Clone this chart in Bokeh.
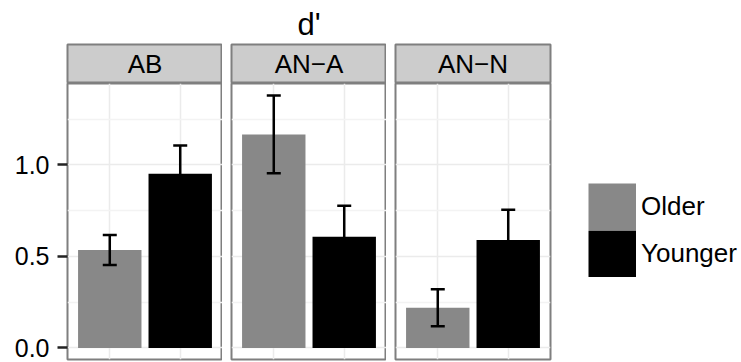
from bokeh.plotting import figure
from bokeh.layouts import row, column
from bokeh.models import (ColumnDataSource, FactorRange, Range1d, FixedTicker, Whisker,
                          TeeHead, Label, Legend, LegendItem, CategoricalTicker)
from bokeh.embed import file_html
from bokeh.resources import INLINE

# ---------------- data ----------------
conditions = ["AB", "AN\u2212A", "AN\u2212N"]
groups = ["Older", "Younger"]
older_mean = [0.535, 1.166, 0.219]
older_err = [0.082, 0.212, 0.101]
younger_mean = [0.951, 0.607, 0.589]
younger_err = [0.154, 0.169, 0.165]
group_colors = ["#888888", "#000000"]
y_ticks = [0.0, 0.5, 1.0]
y_tick_labels = ["0.0", "0.5", "1.0"]
y_minor_ticks = [0.25, 0.75, 1.25]
title_text = "d'"

FONT = "Liberation Sans"
FRAME_W = 155
GAP = 9
LEFT = 67
RIGHT = 191
BORDER = "#7F7F7F"

strips = []
panels = []
sources = []

for i, cond in enumerate(conditions):
    left = LEFT if i == 0 else GAP
    right = RIGHT if i == len(conditions) - 1 else 0

    # ---- facet strip ----
    s = figure(x_range=Range1d(0, 1), y_range=Range1d(0, 1),
               frame_width=FRAME_W, frame_height=39,
               min_border_left=left, min_border_right=right,
               min_border_top=44, min_border_bottom=0,
               x_axis_location=None, y_axis_location=None,
               toolbar_location=None, output_backend="svg",
               background_fill_color="#CCCCCC", border_fill_color="white",
               outline_line_color=BORDER, outline_line_width=2)
    s.grid.visible = False
    s.add_layout(Label(x=0.5, y=0.5, text=cond, text_align="center", text_baseline="middle",
                       text_font_size="26px", text_font=FONT, text_color="black"))
    if i == 1:
        s.title.text = title_text
        s.title.align = "center"
        s.title.text_font = FONT
        s.title.text_font_size = "31px"
        s.title.text_font_style = "normal"
        s.title.text_color = "black"
        s.title.standoff = 6
    strips.append(s)

    # ---- panel ----
    p = figure(x_range=FactorRange(factors=groups, range_padding=0.1, range_padding_units="absolute"),
               y_range=Range1d(-0.063, 1.444),
               frame_width=FRAME_W, frame_height=276,
               min_border_left=left, min_border_right=right,
               min_border_top=0, min_border_bottom=3,
               x_axis_location=None, y_axis_location=("left" if i == 0 else None),
               toolbar_location=None, output_backend="svg",
               background_fill_color="white", border_fill_color="white",
               outline_line_color=BORDER, outline_line_width=2)

    p.xgrid.ticker = CategoricalTicker()
    p.xgrid.grid_line_color = "#EBEBEB"
    p.xgrid.grid_line_width = 1.5
    p.ygrid.ticker = FixedTicker(ticks=y_ticks, minor_ticks=y_minor_ticks)
    p.ygrid.grid_line_color = "#EBEBEB"
    p.ygrid.grid_line_width = 1.5
    p.ygrid.minor_grid_line_color = "#F3F3F3"
    p.ygrid.minor_grid_line_width = 1.5

    if i == 0:
        ax = p.yaxis[0]
        ax.ticker = FixedTicker(ticks=y_ticks)
        ax.major_label_overrides = {t: lab for t, lab in zip(y_ticks, y_tick_labels)}
        ax.axis_line_color = None
        ax.major_tick_line_color = "#222222"
        ax.major_tick_line_width = 2.5
        ax.major_tick_out = 10
        ax.major_tick_in = 0
        ax.minor_tick_line_color = None
        ax.major_label_standoff = 8
        ax.major_label_text_font = FONT
        ax.major_label_text_font_size = "25px"
        ax.major_label_text_color = "black"

    om, oe = older_mean[i], older_err[i]
    ym, ye = younger_mean[i], younger_err[i]
    src = ColumnDataSource(dict(
        x=groups,
        top=[om, ym],
        upper=[om + oe, ym + ye],
        lower=[om - oe, ym - ye],
        color=group_colors,
    ))
    p.vbar(x="x", top="top", bottom=0, width=0.9, source=src,
           fill_color="color", line_color=None)
    w = Whisker(source=src, base="x", upper="upper", lower="lower",
                line_color="black", line_width=2.5, level="annotation",
                upper_head=TeeHead(size=14, line_color="black", line_width=2.5),
                lower_head=TeeHead(size=14, line_color="black", line_width=2.5))
    p.add_layout(w)
    panels.append(p)
    sources.append(src)

# ---- legend (right of last panel): full-size square keys ----
last = panels[-1]
key_renderers = []
for c in group_colors:
    kr = last.line(x="x", y="top", source=sources[-1], line_color=c,
                   line_width=47, line_cap="butt")
    kr.visible = False
    key_renderers.append(kr)
legend = Legend(items=[LegendItem(label=g, renderers=[r])
                       for g, r in zip(groups, key_renderers)],
                location=(38, 82), orientation="vertical",
                glyph_width=48, glyph_height=47, spacing=0,
                label_standoff=5, label_height=47,
                label_text_font=FONT, label_text_font_size="26px", label_text_color="black",
                padding=0, margin=0, border_line_color=None, background_fill_alpha=0)
last.add_layout(legend, "right")

layout = row(*[column(s, p, spacing=0) for s, p in zip(strips, panels)], spacing=0)

open("out.html", "w").write(file_html(layout, INLINE))
